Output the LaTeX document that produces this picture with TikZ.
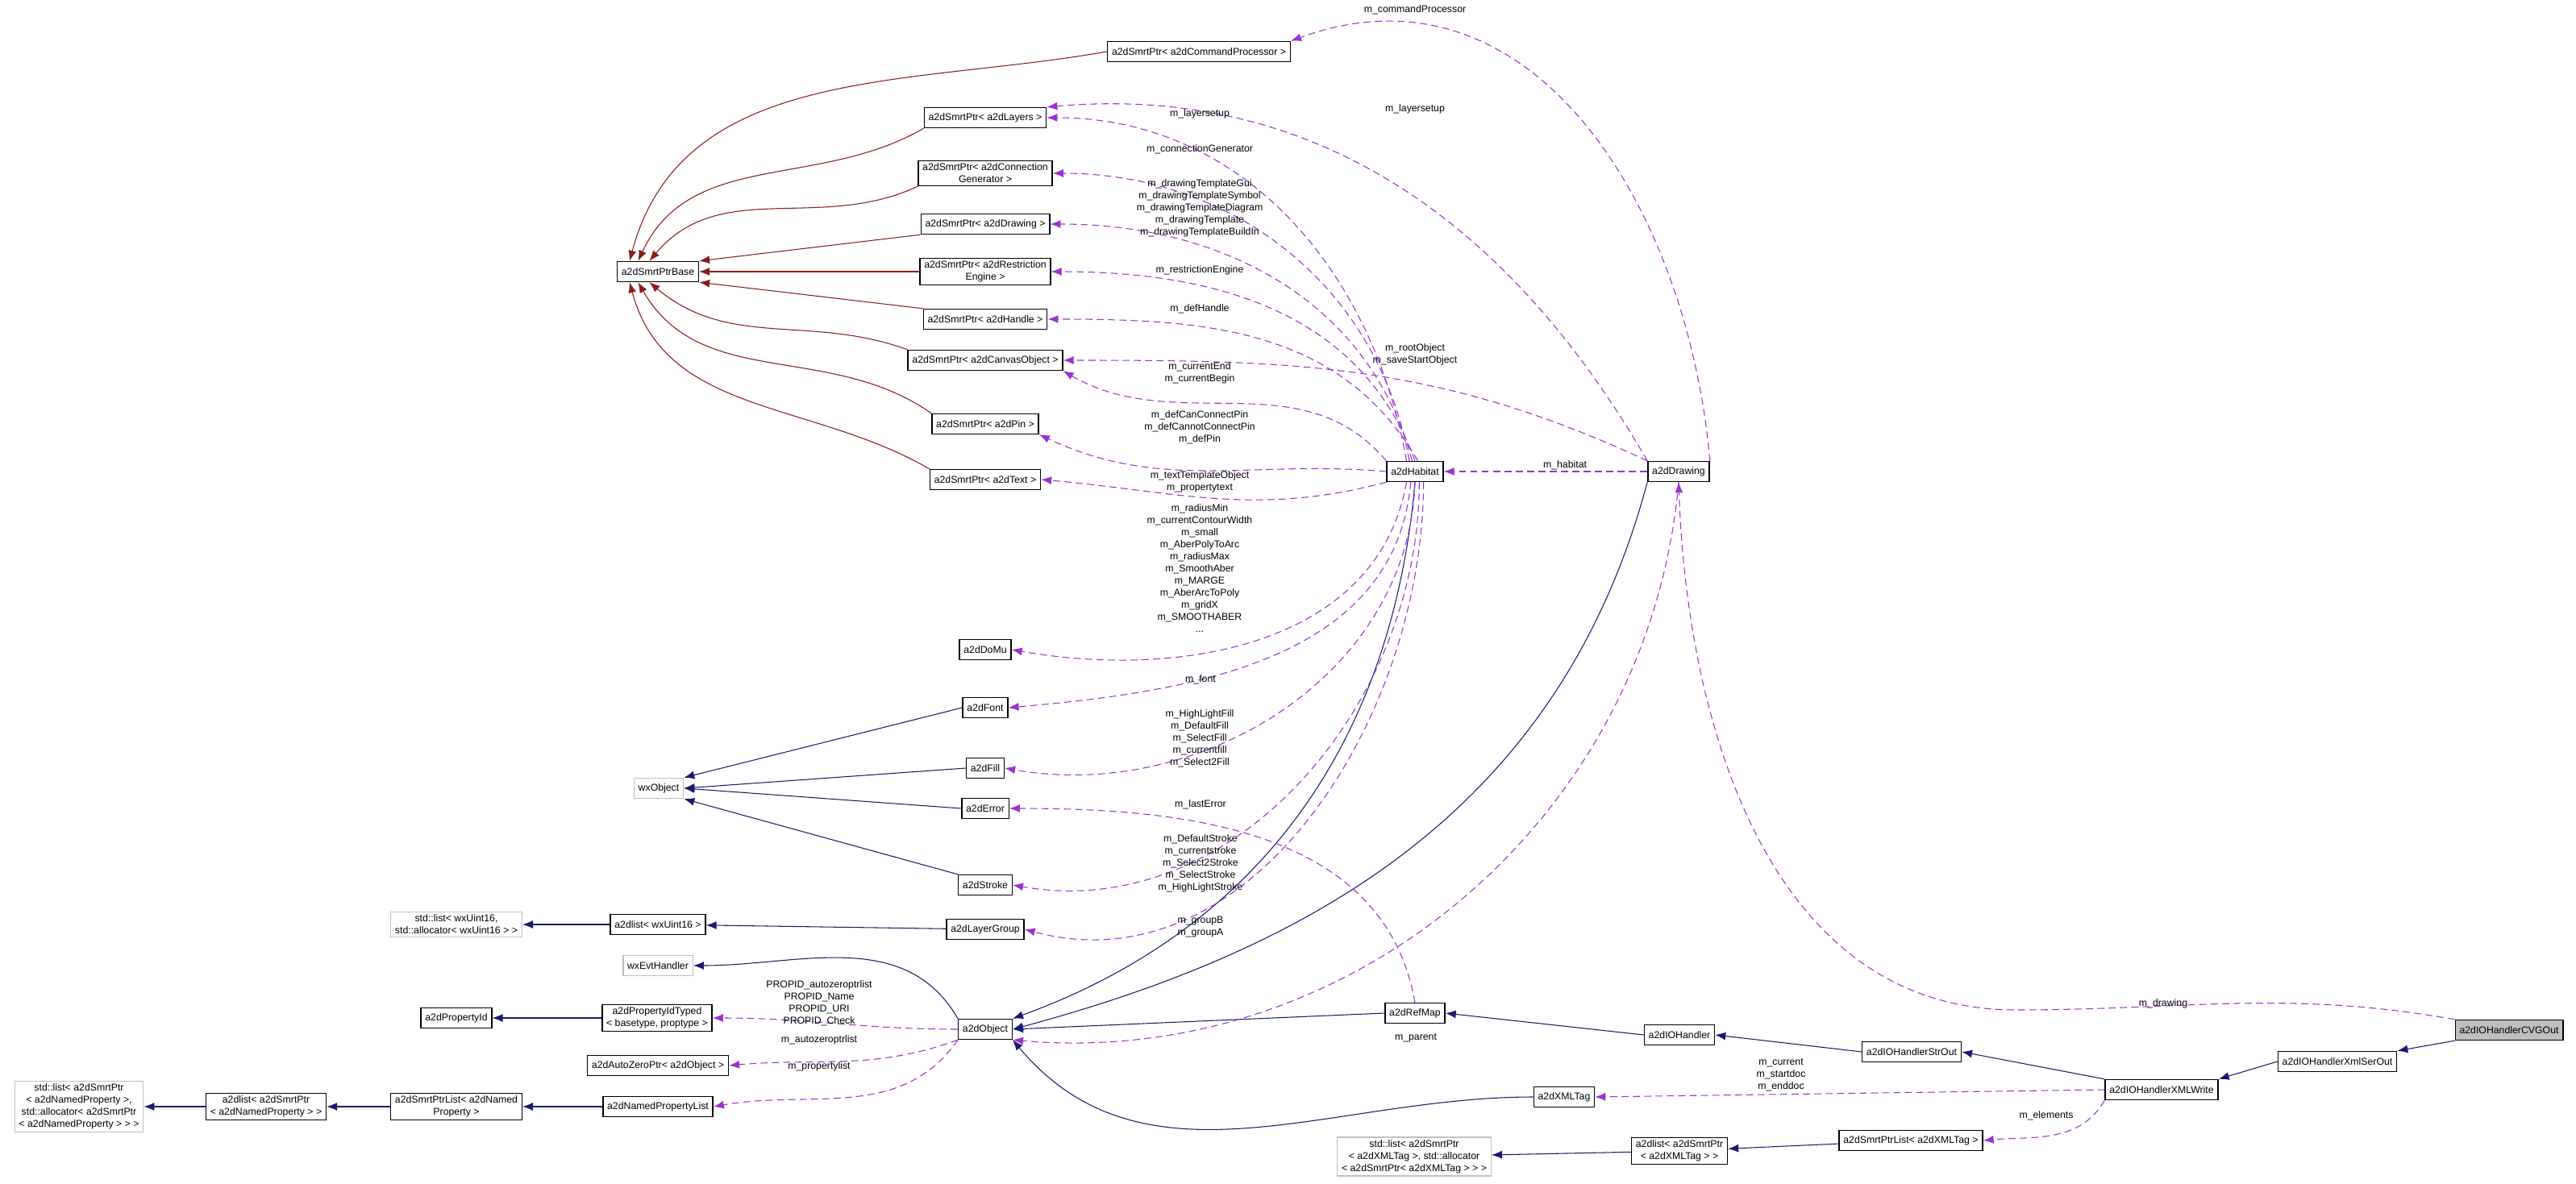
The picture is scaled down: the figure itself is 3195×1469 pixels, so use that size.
\documentclass[tikz,border=0pt]{standalone}
\usepackage{fontspec}
\setmainfont{Liberation Sans}
\usetikzlibrary{arrows.meta}
\definecolor{inhred}{RGB}{139,26,26}
\definecolor{inhblue}{RGB}{25,25,112}
\definecolor{usecol}{RGB}{154,50,205}
\definecolor{extgray}{RGB}{191,191,191}
\tikzset{%
    >={Latex[width=2mm,length=2.6mm]},
    base/.style = {
        rectangle, draw=black, fill=white, line width=0.8pt, align=center,
        inner xsep=3pt, inner ysep=2pt, minimum height=0.5cm,
        font=\fontsize{7}{8.5}\selectfont
    },
    ext/.style = {base, draw=extgray},
    self/.style = {base, fill=extgray},
    lbl/.style = {font=\fontsize{7}{8.5}\selectfont, align=center, inner sep=0pt},
    redline/.style = {draw=inhred, ->, line width=0.6pt},
    blueline/.style = {draw=inhblue, ->, line width=0.6pt},
    useline/.style = {draw=usecol, ->, dashed, dash pattern=on 5pt off 3pt, line width=0.6pt},
}
\begin{document}
\begin{tikzpicture}[x=0.02cm, y=-0.02cm]
    \useasboundingbox (0,0) rectangle (3195,1469);
    % Smart pointer column
    \node (ptrbase) [base] at (816,337) {a2dSmrtPtrBase};
    \node (cmdproc) [base] at (1487,64) {a2dSmrtPtr< a2dCommandProcessor >};
    \node (layers)  [base] at (1222,146) {a2dSmrtPtr< a2dLayers >};
    \node (conngen) [base] at (1222,215) {a2dSmrtPtr< a2dConnection\\Generator >};
    \node (drwptr)  [base] at (1222,278) {a2dSmrtPtr< a2dDrawing >};
    \node (restr)   [base] at (1222,337) {a2dSmrtPtr< a2dRestriction\\Engine >};
    \node (handle)  [base] at (1222,396) {a2dSmrtPtr< a2dHandle >};
    \node (canvas)  [base] at (1222,447) {a2dSmrtPtr< a2dCanvasObject >};
    \node (pin)     [base] at (1222,526) {a2dSmrtPtr< a2dPin >};
    \node (text)    [base] at (1222,595) {a2dSmrtPtr< a2dText >};
    % Habitat and drawing
    \node (habitat) [base] at (1755,585) {a2dHabitat};
    \node (drawing) [base] at (2082,585) {a2dDrawing};
    % wxObject family
    \node (domu)    [base] at (1222,806) {a2dDoMu};
    \node (font)    [base] at (1222,878) {a2dFont};
    \node (fill)    [base] at (1222,953) {a2dFill};
    \node (wxobj)   [ext]  at (817,978) {wxObject};
    \node (error)   [base] at (1222,1003) {a2dError};
    \node (stroke)  [base] at (1222,1098) {a2dStroke};
    \node (lgroup)  [base] at (1222,1153) {a2dLayerGroup};
    \node (uintlist)[base] at (816,1147) {a2dlist< wxUint16 >};
    \node (stduint) [ext]  at (566,1147) {std::list< wxUint16,\\ std::allocator< wxUint16 > >};
    \node (evth)    [ext]  at (816,1198) {wxEvtHandler};
    \node (propid)  [base] at (566,1263) {a2dPropertyId};
    \node (propidt) [base] at (815,1263) {a2dPropertyIdTyped\\< basetype, proptype >};
    \node (object)  [base] at (1222,1277) {a2dObject};
    \node (autozero)[base] at (816,1322) {a2dAutoZeroPtr< a2dObject >};
    \node (nplist)  [base] at (816,1373) {a2dNamedPropertyList};
    \node (spnamed) [base] at (566,1373) {a2dSmrtPtrList< a2dNamed\\Property >};
    \node (lnamed)  [base] at (330,1373) {a2dlist< a2dSmrtPtr\\< a2dNamedProperty > >};
    \node (stdnamed)[ext]  at (98,1373) {std::list< a2dSmrtPtr\\< a2dNamedProperty >,\\ std::allocator< a2dSmrtPtr\\< a2dNamedProperty > > >};
    % IO handler chain
    \node (refmap)  [base] at (1755,1257) {a2dRefMap};
    \node (iohand)  [base] at (2083,1284) {a2dIOHandler};
    \node (strout)  [base] at (2371,1305) {a2dIOHandlerStrOut};
    \node (xmltag)  [base] at (1940,1361) {a2dXMLTag};
    \node (xmlwrite)[base] at (2681,1352) {a2dIOHandlerXMLWrite};
    \node (serout)  [base] at (2899,1317) {a2dIOHandlerXmlSerOut};
    \node (cvgout)  [self] at (3112,1278) {a2dIOHandlerCVGOut};
    \node (spxml)   [base] at (2370,1415) {a2dSmrtPtrList< a2dXMLTag >};
    \node (lxml)    [base] at (2083,1428) {a2dlist< a2dSmrtPtr\\< a2dXMLTag > >};
    \node (stdxml)  [ext]  at (1754,1435) {std::list< a2dSmrtPtr\\< a2dXMLTag >, std::allocator\\< a2dSmrtPtr< a2dXMLTag > > >};

    % Inheritance, smart pointers
    \draw[redline] (cmdproc.west) to[out=190,in=75] ([xshift=-20]ptrbase.north);
    \draw[redline] (layers.south west) to[out=210,in=65] ([xshift=-14]ptrbase.north);
    \draw[redline] (conngen.south west) to[out=205,in=50] ([xshift=-6]ptrbase.north);
    \draw[redline] (drwptr.south west) -- (ptrbase.north east);
    \draw[redline] (restr.west) -- (ptrbase.east);
    \draw[redline] (handle.north west) -- (ptrbase.south east);
    \draw[redline] (canvas.north west) to[out=160,in=-40] ([xshift=-6]ptrbase.south);
    \draw[redline] (pin.north west) to[out=145,in=-60] ([xshift=-14]ptrbase.south);
    \draw[redline] (text.north west) to[out=150,in=-75] ([xshift=-20]ptrbase.south);
    % Inheritance, other classes
    \draw[blueline] (font.west) -- (wxobj.north east);
    \draw[blueline] (fill.west) -- (wxobj.east);
    \draw[blueline] (error.west) -- (wxobj.east);
    \draw[blueline] (stroke.north west) -- (wxobj.south east);
    \draw[blueline] (lgroup) -- (uintlist);
    \draw[blueline] (uintlist) -- (stduint);
    \draw[blueline] (object.north west) to[out=120,in=0] (evth.east);
    \draw[blueline] (propidt) -- (propid);
    \draw[blueline] (nplist) -- (spnamed);
    \draw[blueline] (spnamed) -- (lnamed);
    \draw[blueline] (lnamed) -- (stdnamed);
    \draw[blueline] (habitat.south) to[out=-95,in=20] (object.north east);
    \draw[blueline] (drawing.south west) to[out=-105,in=15] (object.east);
    \draw[blueline] (refmap.west) -- (object.east);
    \draw[blueline] (xmltag.west) to[out=180,in=-50] (object.south east);
    \draw[blueline] (iohand.west) -- (refmap.east);
    \draw[blueline] (strout.west) -- (iohand.east);
    \draw[blueline] (xmlwrite.north west) -- (strout.east);
    \draw[blueline] (serout.west) -- (xmlwrite.north east);
    \draw[blueline] (cvgout.south west) -- (serout.north east);
    \draw[blueline] (spxml) -- (lxml);
    \draw[blueline] (lxml) -- (stdxml);

    % Members used by a2dDrawing
    \draw[useline] (drawing.north east) to[out=95,in=20,looseness=1.1] (cmdproc.north east);
    \node (lcmd) [lbl] at (1755,12) {m\_commandProcessor};
    \draw[useline] (drawing.north west) to[out=120,in=5] (layers.north east);
    \node (llay2) [lbl] at (1755,135) {m\_layersetup};
    \draw[useline] (drawing.north west) to[out=155,in=0] (canvas.east);
    \node (lroot) [lbl] at (1755,440) {m\_rootObject\\m\_saveStartObject};
    \draw[useline] (drawing.west) -- (habitat.east);
    \node (lhab) [lbl] at (1941,577) {m\_habitat};
    \draw[useline] (drawing.south) to[out=-95,in=-5] (object.south east);
    \node (lpar) [lbl] at (1756,1288) {m\_parent};
    \draw[useline] (cvgout.north west) to[out=170,in=0] (2500,1253)
        to[out=180,in=-88] (drawing.south);
    \node (ldrw) [lbl] at (2683,1245) {m\_drawing};
    % Members used by a2dHabitat
    \draw[useline] ([xshift=-6]habitat.north) to[out=100,in=0] (layers.east);
    \node (llay) [lbl] at (1488,141) {m\_layersetup};
    \draw[useline] ([xshift=-4]habitat.north) to[out=100,in=0] (conngen.east);
    \node (lcon) [lbl] at (1488,185) {m\_connectionGenerator};
    \draw[useline] ([xshift=-2]habitat.north) to[out=105,in=0] (drwptr.east);
    \node (ltpl) [lbl] at (1488,258) {m\_drawingTemplateGui\\m\_drawingTemplateSymbol\\m\_drawingTemplateDiagram\\m\_drawingTemplate\\m\_drawingTemplateBuildIn};
    \draw[useline] (habitat.north) to[out=110,in=0] (restr.east);
    \node (lres) [lbl] at (1488,335) {m\_restrictionEngine};
    \draw[useline] ([xshift=2]habitat.north) to[out=120,in=0] (handle.east);
    \node (lhan) [lbl] at (1488,383) {m\_defHandle};
    \draw[useline] (habitat.north west) to[out=130,in=-30] (canvas.south east);
    \node (lcur) [lbl] at (1488,463) {m\_currentEnd\\m\_currentBegin};
    \draw[useline] (habitat.west) to[out=175,in=-25] (pin.south east);
    \node (lpin) [lbl] at (1488,530) {m\_defCanConnectPin\\m\_defCannotConnectPin\\m\_defPin};
    \draw[useline] (habitat.south west) to[out=195,in=-5] (text.east);
    \node (ltxt) [lbl] at (1488,598) {m\_textTemplateObject\\m\_propertytext};
    \draw[useline] ([xshift=-6]habitat.south) to[out=-100,in=-10] (domu.east);
    \node (lrad) [lbl] at (1488,705) {m\_radiusMin\\m\_currentContourWidth\\m\_small\\m\_AberPolyToArc\\m\_radiusMax\\m\_SmoothAber\\m\_MARGE\\m\_AberArcToPoly\\m\_gridX\\m\_SMOOTHABER\\...};
    \draw[useline] ([xshift=-3]habitat.south) to[out=-95,in=5] (font.east);
    \node (lfnt) [lbl] at (1489,843) {m\_font};
    \draw[useline] (habitat.south) to[out=-92,in=-10] (fill.east);
    \node (lfil) [lbl] at (1488,916) {m\_HighLightFill\\m\_DefaultFill\\m\_SelectFill\\m\_currentfill\\m\_Select2Fill};
    \draw[useline] ([xshift=3]habitat.south) to[out=-90,in=-10] (stroke.east);
    \node (lstr) [lbl] at (1489,1071) {m\_DefaultStroke\\m\_currentstroke\\m\_Select2Stroke\\m\_SelectStroke\\m\_HighLightStroke};
    \draw[useline] ([xshift=6]habitat.south) to[out=-90,in=-15] (lgroup.east);
    \node (lgrp) [lbl] at (1489,1150) {m\_groupB\\m\_groupA};
    % Members used by other classes
    \draw[useline] (refmap.north) to[out=100,in=0] (error.east);
    \node (lerr) [lbl] at (1489,998) {m\_lastError};
    \draw[useline] (object.west) to[out=180,in=0] (propidt.east);
    \node (lpid) [lbl] at (1016,1245) {PROPID\_autozeroptrlist\\PROPID\_Name\\PROPID\_URI\\PROPID\_Check};
    \draw[useline] (object.south west) to[out=200,in=5] (autozero.east);
    \node (lazp) [lbl] at (1016,1290) {m\_autozeroptrlist};
    \draw[useline] (object.south west) to[out=235,in=10] (nplist.east);
    \node (lplst) [lbl] at (1016,1323) {m\_propertylist};
    \draw[useline] (xmlwrite.west) -- (xmltag.east);
    \node (lxmt) [lbl] at (2209,1334) {m\_current\\m\_startdoc\\m\_enddoc};
    \draw[useline] (xmlwrite.south west) to[out=-120,in=5] (spxml.east);
    \node (lelm) [lbl] at (2538,1384) {m\_elements};
\end{tikzpicture}
\end{document}
